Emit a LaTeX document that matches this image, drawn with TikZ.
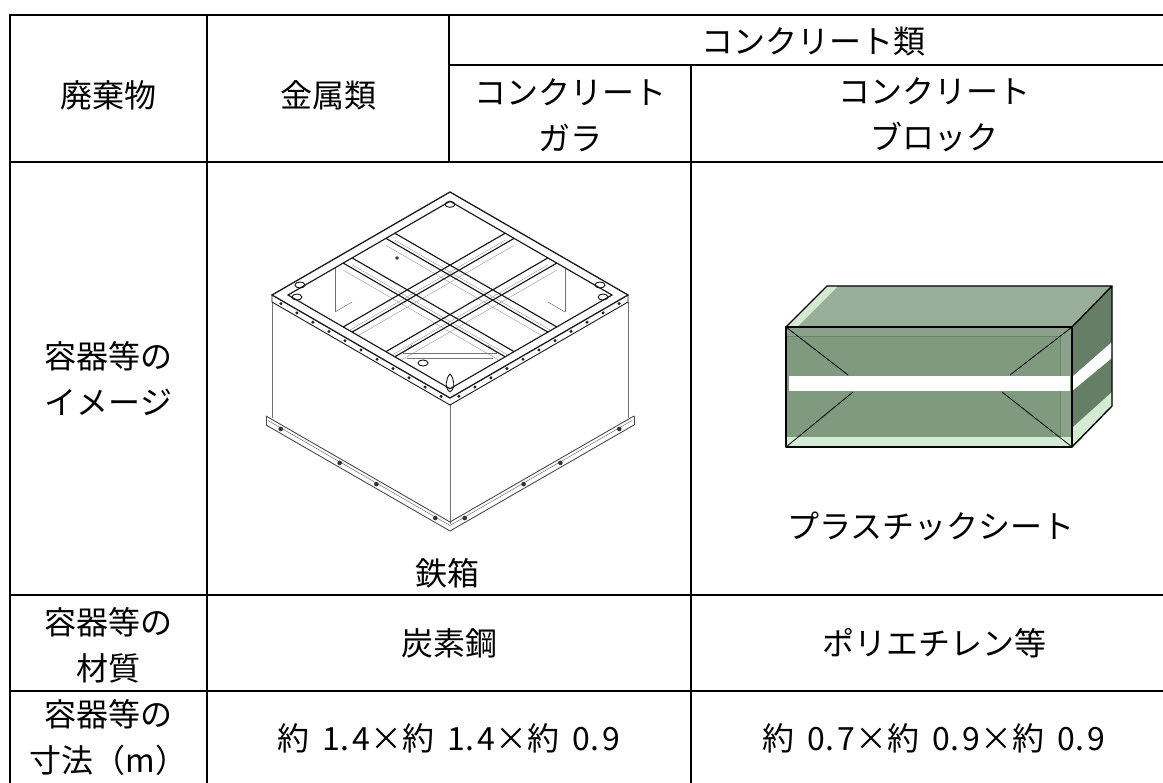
\documentclass[tikz,border=0pt]{standalone}
\usepackage{fontspec}
\setmainfont{Noto Sans CJK JP}
\newcommand{\topPt}[2]{({450-178*(#1)+178*(#2)},{192+103*(#1)+103*(#2)})}
\newcommand{\topPtLow}[2]{({450-178*(#1)+178*(#2)},{199+103*(#1)+103*(#2)})}
\newcommand{\numsp}{\hspace{0.42em}}
\newcommand{\dotsp}{.\hspace{0.1em}}
\definecolor{sheetTop}{HTML}{98AE98}
\definecolor{sheetFront}{HTML}{7F9A7F}
\definecolor{sheetSide}{HTML}{667E66}
\definecolor{sheetLight}{HTML}{D3EAD3}
\definecolor{sheetEdge}{HTML}{6A826A}
\begin{document}
\begin{tikzpicture}[x=1pt,y=-1pt,
  tline/.style={line width=1.8pt, line cap=rect},
  lbl/.style={font=\fontsize{32}{46}\selectfont, align=center, inner sep=0pt},
  ironline/.style={line width=0.9pt, draw=black!90},
  ironbeam/.style={line width=1.15pt, draw=black!90},
  ironthin/.style={line width=0.5pt, draw=black!55},
  irondepth/.style={line width=0.5pt, draw=black!35},
  boxedge/.style={line width=1.4pt, draw=black, line join=round},
  foldline/.style={line width=0.8pt, draw=black}
]
\useasboundingbox (0,0) rectangle (1163,783);
\fill[white] (0,0) rectangle (1163,783);

% ---------- table grid ----------
\draw[tline] (10,15) -- (1175,15);
\draw[tline] (449,65) -- (1175,65);
\draw[tline] (10,162) -- (1175,162);
\draw[tline] (10,595) -- (1175,595);
\draw[tline] (10,691) -- (1175,691);
\draw[tline] (10,15) -- (10,790);
\draw[tline] (207,15) -- (207,790);
\draw[tline] (449,15) -- (449,162);
\draw[tline] (691,65) -- (691,790);

% ---------- texts ----------
\node[lbl] (haiki) at (108.5,95) {廃棄物};
\node[lbl] (kinzoku) at (328,95) {金属類};
\node[lbl] (concrete) at (813,42) {コンクリート類};
\node[lbl] (gara) at (570,115) {コンクリート\\ガラ};
\node[lbl] (block) at (934,115) {コンクリート\\ブロック};
\node[lbl] (image) at (108.5,379) {容器等の\\イメージ};
\node[lbl] (tetsu) at (447,573) {鉄箱};
\node[lbl] (sheet) at (931,526) {プラスチックシート};
\node[lbl] (zaishitsu) at (108.5,645) {容器等の\\材質};
\node[lbl] (tanso) at (449,643) {炭素鋼};
\node[lbl] (poly) at (934,643) {ポリエチレン等};
\node[lbl] (sunpo) at (108.5,738) {容器等の\\寸法（m）};
\node[lbl] (dimA) at (449,738) {約\numsp 1\dotsp 4×約\numsp 1\dotsp 4×約\numsp 0\dotsp 9};
\node[lbl] (dimB) at (934,738) {約\numsp 0\dotsp 7×約\numsp 0\dotsp 9×約\numsp 0\dotsp 9};

% ---------- iron box ----------
% walls
\draw[ironthin] (272,302) -- (272,418);
\draw[ironthin] (450,405) -- (450,524);
\draw[ironthin] (628,302) -- (628,418);
% base flange
\draw[ironline, draw=black!70] (266,416) -- (450,522) -- (634,416);
\draw[ironline, draw=black!70] (266,425) -- (450,531) -- (634,425);
\draw[ironthin] (268,420.5) -- (450,525.5) -- (632,420.5);
\draw[ironline, draw=black!70] (266,416) -- (266,425);
\draw[ironline, draw=black!70] (634,416) -- (634,425);
\foreach \t in {0.08,0.4,0.6,0.92}{
  \fill[black!80] ({266+184*\t},{420.5+106*\t}) circle (2.3);
  \fill[black!80] ({634-184*\t},{420.5+106*\t}) circle (2.3);
}
% interior (seen through the grid)
\begin{scope}
  \clip \topPt{0.045}{0.045} -- \topPt{0.955}{0.045} -- \topPt{0.955}{0.955} -- \topPt{0.045}{0.955} -- cycle;
  \foreach \s in {0.355,0.405,0.595,0.645}{
    \draw[irondepth] \topPtLow{0.045}{\s} -- \topPtLow{0.955}{\s};
    \draw[irondepth] \topPtLow{\s}{0.045} -- \topPtLow{\s}{0.955};
  }
  \draw[ironthin] (335,250) -- (335,312);
  \draw[ironthin] (565,250) -- (565,312);
  \draw[ironthin] (335,312) -- (352,302);
  \draw[ironthin] (565,312) -- (548,302);
  \draw[ironthin] (403,353) -- (497,353);
  \draw[ironthin] (407,358) -- (493,358);
  \draw[ironthin] (403,353) -- (412,345);
  \draw[ironthin] (497,353) -- (488,345);
\end{scope}
% top rim outer
\draw[ironbeam, line width=1.3pt] \topPt{0}{0} -- \topPt{1}{0} -- \topPt{1}{1} -- \topPt{0}{1} -- cycle;
% rim side (thickness)
\draw[ironline] (272,295) -- (272,302) -- (450,405) -- (628,302) -- (628,295);
\foreach \t in {0.05,0.14,...,0.96}{
  \fill[black!85] ({272+178*\t},{298.5+103*\t}) circle (1.7);
  \fill[black!85] ({628-178*\t},{298.5+103*\t}) circle (1.7);
}
% rim inner
\draw[ironbeam] \topPt{0.045}{0.045} -- \topPt{0.955}{0.045} -- \topPt{0.955}{0.955} -- \topPt{0.045}{0.955} -- cycle;
% cross beams
\foreach \s in {0.355,0.405,0.595,0.645}{
  \draw[ironbeam] \topPt{0.045}{\s} -- \topPt{0.955}{\s};
  \draw[ironbeam] \topPt{\s}{0.045} -- \topPt{\s}{0.955};
}
% corner fittings
\draw[ironline] \topPt{0.06}{0.06} ellipse (5 and 3);
\draw[ironline] \topPt{0.94}{0.08} ellipse (5 and 3);
\draw[ironline] \topPt{0.08}{0.94} ellipse (5 and 3);
\draw[ironline] (450,392) .. controls (444,388) and (446,378) .. (450,374) .. controls (454,378) and (456,388) .. (450,392);
\draw[ironline] (300,285) ellipse (5 and 3);
\draw[ironline] (600,285) ellipse (5 and 3);
\draw[ironline] (423,363) ellipse (5 and 3);
\fill[black!80] (397,258) circle (1.8);

% ---------- plastic sheet box ----------
% top face
\fill[sheetTop] (786,327) -- (827,286) -- (1112,286) -- (1072,327) -- cycle;
\fill[sheetLight] (786,327) -- (827,286) -- (838,286) -- (797,327) -- cycle;
% right face
\fill[sheetSide] (1072,327) -- (1112,286) -- (1112,406) -- (1072,447) -- cycle;
\fill[sheetLight] (1072,428) -- (1112,392) -- (1112,406) -- (1072,447) -- cycle;
\fill[white] (1072,377) -- (1112,342) -- (1112,358) -- (1072,391) -- cycle;
% front face
\fill[sheetFront!92!white] (786,327) rectangle (1072,447);
\fill[sheetFront] (787,336) rectangle (1060,437);
\draw[sheetEdge, line width=0.6pt] (787,336) -- (1060,336) -- (1060,437);
\fill[sheetLight] (787,437) rectangle (1072,447);
\fill[white] (789,376) rectangle (1070,391);
% folds
\draw[foldline] (786,327) -- (848,375);
\draw[foldline] (786,447) -- (853,392);
\draw[foldline] (1072,327) -- (1010,375);
\draw[foldline] (1072,447) -- (1002,392);
% outlines
\draw[boxedge] (786,327) rectangle (1072,447);
\draw[boxedge] (786,327) -- (827,286) -- (1112,286) -- (1072,327);
\draw[boxedge] (1112,286) -- (1112,406) -- (1072,447);
\end{tikzpicture}
\end{document}
